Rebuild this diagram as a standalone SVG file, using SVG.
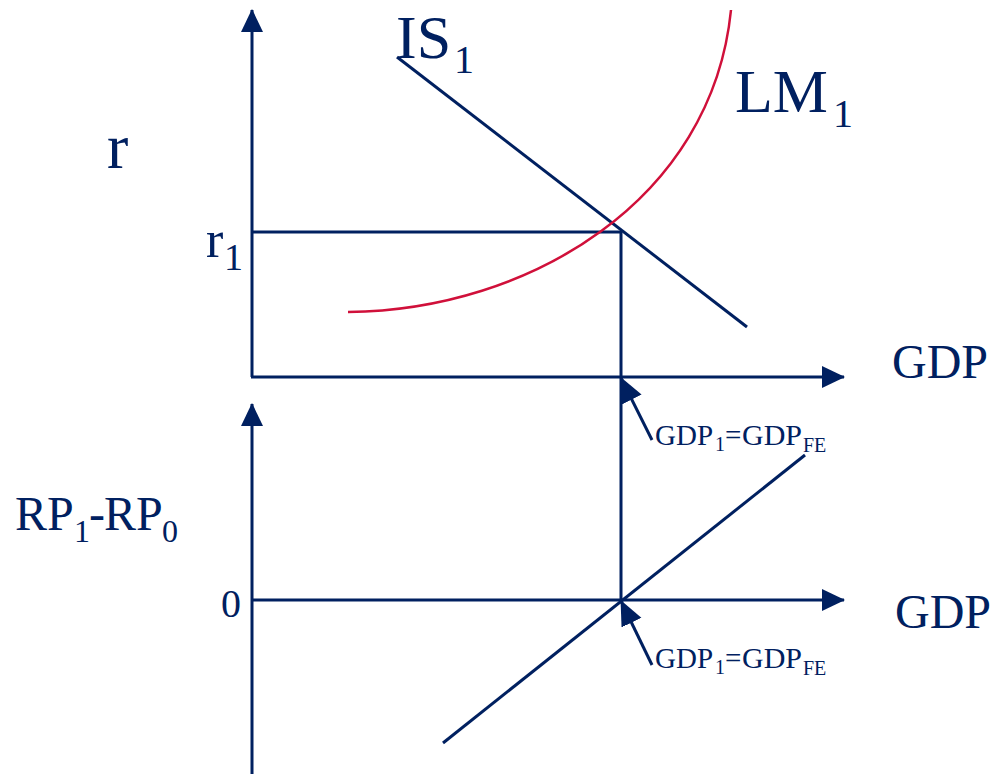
<svg xmlns="http://www.w3.org/2000/svg" width="992" height="774" viewBox="0 0 992 774">
<style>
.ax{stroke:#002060;stroke-width:3;fill:none}
.lm{stroke:#D0103A;stroke-width:2.5;fill:none}
.t{font-family:"Liberation Serif","Times New Roman",serif;fill:#002060}
</style>
<defs>
<marker id="ah" markerUnits="userSpaceOnUse" markerWidth="24" markerHeight="24" viewBox="0 0 24 24" refX="22" refY="12" orient="auto">
<path d="M0,1 L23,12 L0,23 Z" fill="#002060"/>
</marker>
<marker id="sa" markerUnits="userSpaceOnUse" markerWidth="26" markerHeight="24" viewBox="0 0 26 24" refX="24" refY="12" orient="auto">
<path d="M0,1 L25,12 L0,23 Z" fill="#002060"/>
</marker>
</defs>
<rect width="992" height="774" fill="#ffffff"/>
<g id="connectors">
<line class="ax" x1="252" y1="377" x2="252" y2="10" marker-end="url(#ah)"/>
<line class="ax" x1="251" y1="377" x2="844" y2="377" marker-end="url(#ah)"/>
<line class="ax" x1="252" y1="774" x2="252" y2="404" marker-end="url(#ah)"/>
<line class="ax" x1="251" y1="600" x2="844" y2="600" marker-end="url(#ah)"/>
<polyline class="ax" points="252,232 621,232 621,600"/>
<line class="ax" x1="397" y1="57" x2="747" y2="327"/>
<line class="ax" x1="443" y1="743" x2="805" y2="455"/>
<path class="lm" d="M348,312 C530,310 712,200 731,10"/>
<line class="ax" x1="652" y1="440" x2="621" y2="378" marker-end="url(#sa)"/>
<line class="ax" x1="652" y1="665" x2="621" y2="601" marker-end="url(#sa)"/>
</g>
<g id="label-r"><text class="t" x="107" y="168" font-size="64">r</text></g>
<g id="label-IS1"><text class="t" x="396" y="58" font-size="62">IS</text><text class="t" x="454" y="73" font-size="40">1</text></g>
<g id="label-LM1"><text class="t" x="735" y="112" font-size="62">LM</text><text class="t" x="833" y="127" font-size="40">1</text></g>
<g id="label-r1"><text class="t" x="206" y="257" font-size="52">r</text><text class="t" x="224" y="270" font-size="38">1</text></g>
<g id="label-GDP-top"><text class="t" x="892" y="378" font-size="48">GDP</text></g>
<g id="label-GDP-bottom"><text class="t" x="895" y="628" font-size="48">GDP</text></g>
<g id="label-RP"><text class="t" x="15" y="530" font-size="48">RP</text><text class="t" x="74" y="542" font-size="32">1</text><text class="t" x="89" y="530" font-size="48">-</text><text class="t" x="104" y="530" font-size="48">RP</text><text class="t" x="162" y="542" font-size="32">0</text></g>
<g id="label-zero"><text class="t" x="221" y="617" font-size="40">0</text></g>
<g id="label-gdpfe-top"><text class="t" x="655" y="445" font-size="29">GDP</text><text class="t" x="715" y="451" font-size="20">1</text><text class="t" x="725" y="445" font-size="29">=</text><text class="t" x="742" y="445" font-size="30">GDP</text><text class="t" x="803" y="452" font-size="20">FE</text></g>
<g id="label-gdpfe-bottom"><text class="t" x="655" y="668" font-size="29">GDP</text><text class="t" x="715" y="674" font-size="20">1</text><text class="t" x="725" y="668" font-size="29">=</text><text class="t" x="742" y="668" font-size="30">GDP</text><text class="t" x="803" y="675" font-size="20">FE</text></g>
</svg>
